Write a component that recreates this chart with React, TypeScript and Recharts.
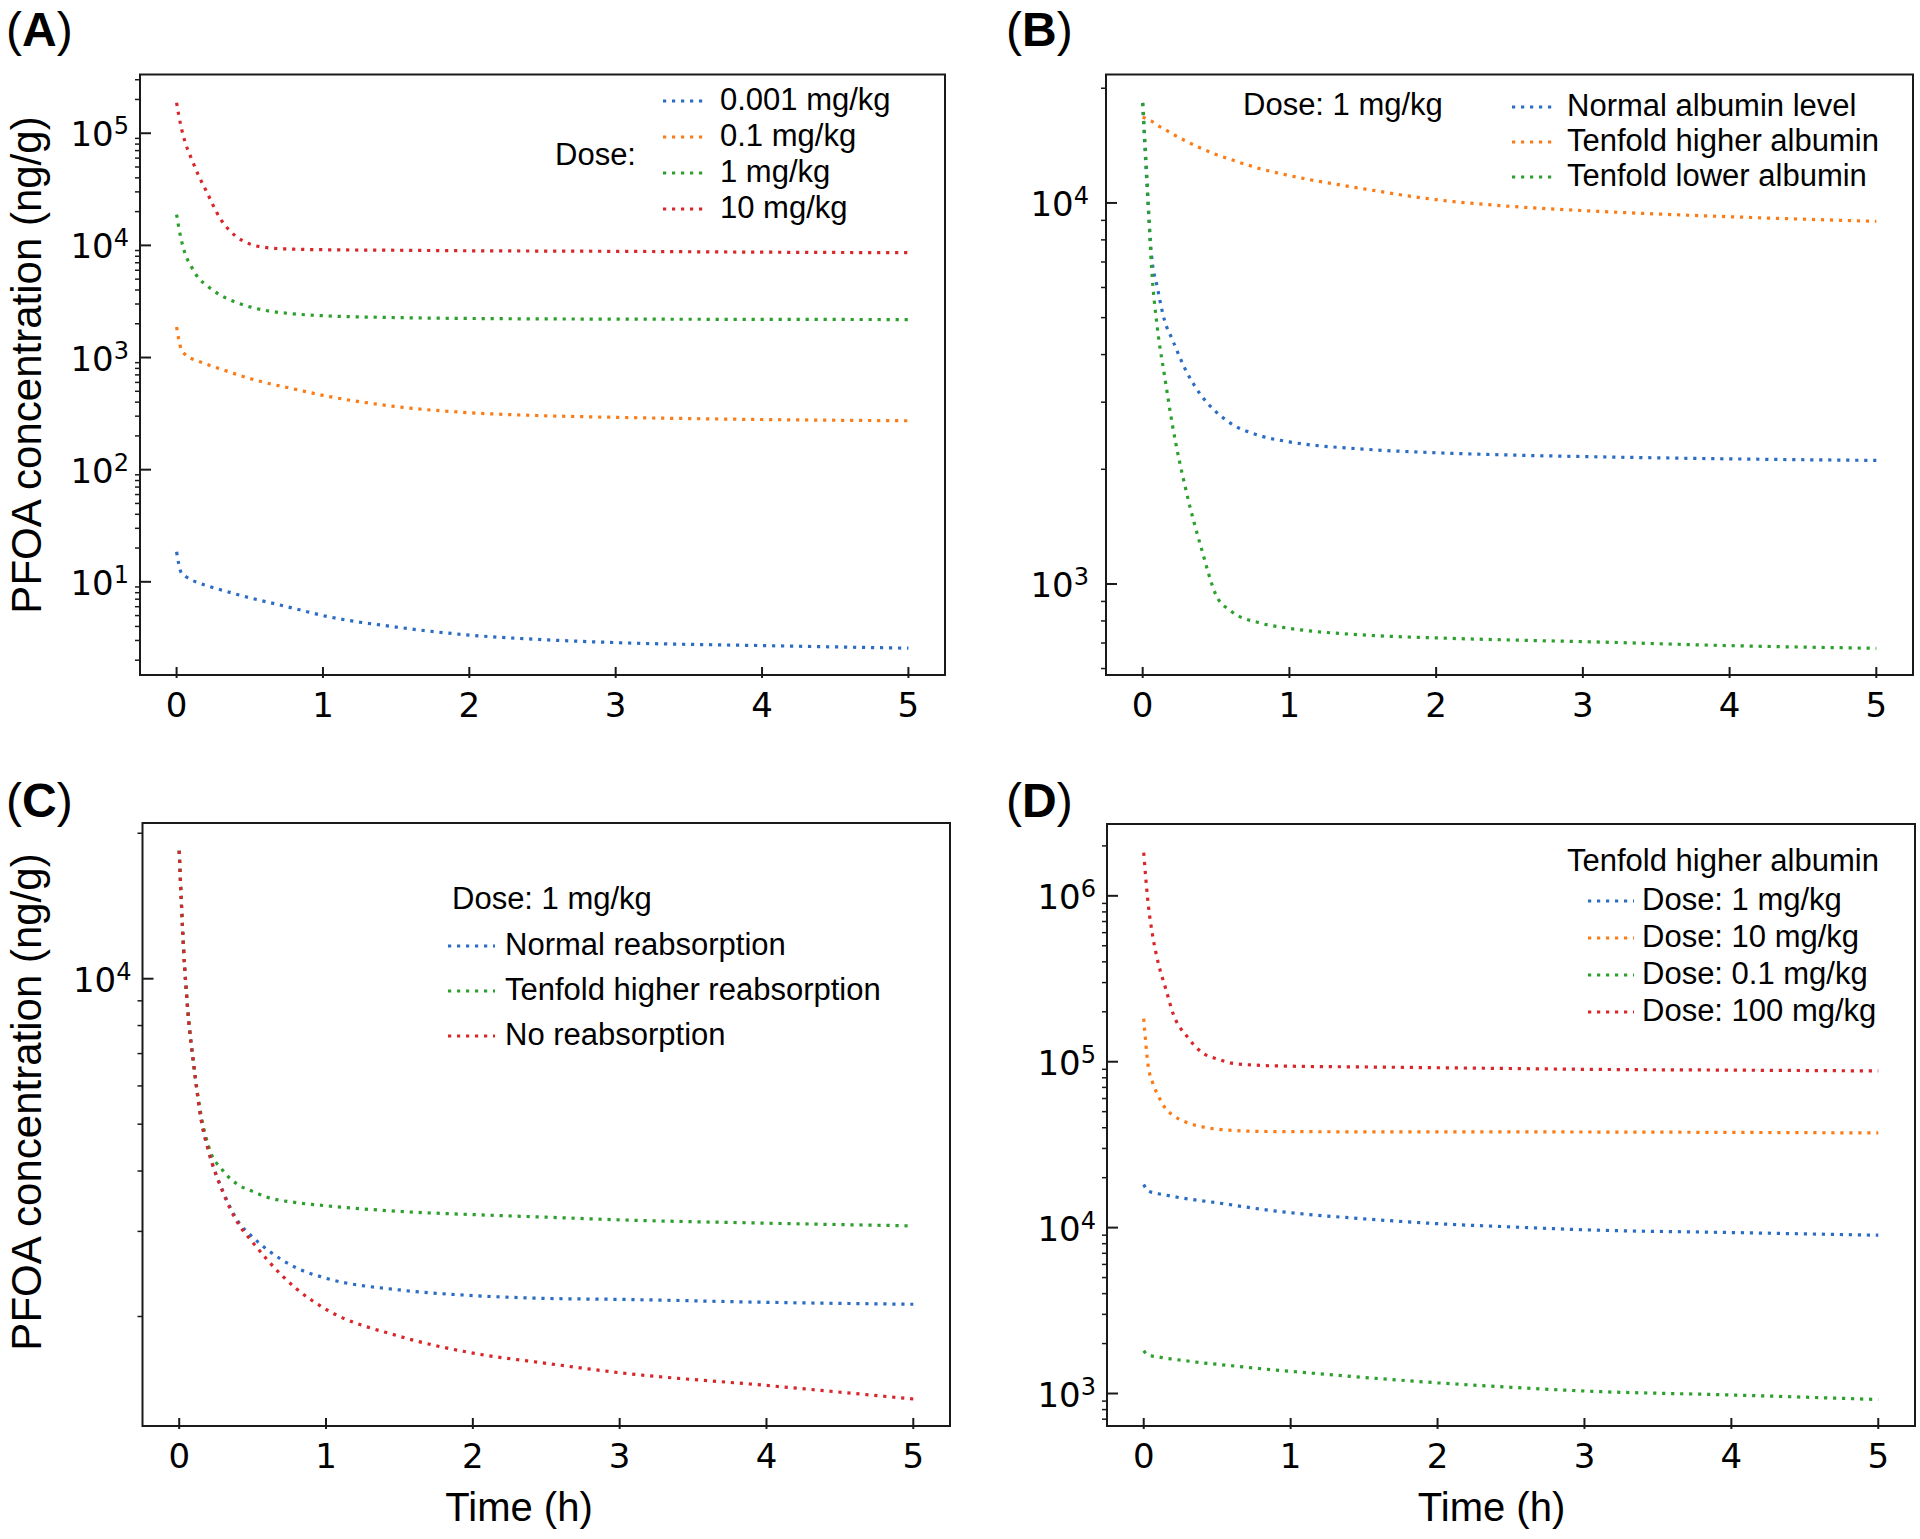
import React from "react";
import { LineChart, Line, XAxis, YAxis, ReferenceArea, Legend } from "recharts";

// shared time grid (h)
const TIME = [0, 0.03, 0.06, 0.1, 0.15, 0.2, 0.3, 0.4, 0.5, 0.6, 0.8, 1, 1.5, 2, 2.5, 3, 4, 5];
const X_TICKS = [0, 1, 2, 3, 4, 5];

// (A) dose comparison
const A_DOSE_0001 = [18.5, 12.2, 11.2, 10.4, 9.8, 9.3, 8.5, 7.8, 7.2, 6.7, 5.8, 5.0, 3.95, 3.35, 3.05, 2.87, 2.7, 2.56];
const A_DOSE_01 = [1870, 1200, 1060, 980, 925, 875, 790, 715, 650, 600, 525, 460, 365, 322, 303, 293, 280, 273];
const A_DOSE_1 = [18800, 11500, 8300, 6500, 5100, 4450, 3600, 3120, 2830, 2640, 2450, 2360, 2270, 2230, 2210, 2200, 2190, 2180];
const A_DOSE_10 = [187000, 115000, 82000, 60000, 42000, 31000, 17200, 12200, 10300, 9600, 9250, 9150, 9050, 8950, 8900, 8850, 8700, 8600];
const A_MAJOR = [10, 100, 1000, 10000, 100000];

// (B) albumin level
const B_NORMAL = [18300, 11000, 7300, 6000, 4900, 4400, 3600, 3120, 2830, 2640, 2450, 2360, 2260, 2210, 2180, 2160, 2130, 2110];
const B_HIGH = [16800, 16600, 16400, 16000, 15600, 15200, 14500, 13900, 13400, 13000, 12300, 11800, 10900, 10200, 9800, 9550, 9200, 8950];
const B_LOW = [18300, 11500, 6800, 4700, 3500, 2650, 1730, 1240, 935, 850, 790, 765, 735, 722, 713, 706, 689, 678];
const B_MAJOR = [1000, 10000];

// (C) reabsorption
const C_NORMAL = [18400, 11500, 8500, 6600, 5100, 4400, 3620, 3150, 2920, 2750, 2520, 2400, 2270, 2210, 2180, 2170, 2140, 2120];
const C_HIGH = [18400, 11500, 8500, 6600, 5200, 4500, 4000, 3750, 3630, 3530, 3440, 3390, 3300, 3250, 3210, 3170, 3120, 3080];
const C_NONE = [18400, 11500, 8500, 6600, 5100, 4400, 3600, 3120, 2850, 2620, 2280, 2070, 1820, 1680, 1600, 1530, 1440, 1350];
const C_MAJOR = [10000];

// (D) tenfold higher albumin, dose comparison
const D_DOSE_1 = [18200, 16600, 16300, 16000, 15700, 15400, 14900, 14500, 14100, 13700, 12900, 12300, 11300, 10560, 10100, 9700, 9340, 9000];
const D_DOSE_10 = [182000, 95000, 75000, 62000, 52000, 47500, 42800, 40500, 39200, 38600, 38000, 37900, 37800, 37800, 37750, 37700, 37500, 37200];
const D_DOSE_01 = [1810, 1700, 1680, 1660, 1630, 1610, 1570, 1530, 1500, 1470, 1410, 1360, 1250, 1160, 1090, 1035, 980, 920];
const D_DOSE_100 = [1820000, 900000, 580000, 390000, 275000, 195000, 140000, 113000, 104000, 98000, 95000, 94000, 93000, 92000, 91000, 90000, 89000, 88000];
const D_MAJOR = [1000, 10000, 100000, 1000000];

const BLUE = "#2b6cc4";
const ORANGE = "#fb7c16";
const GREEN = "#2ca02c";
const RED = "#d9262a";

const INK = "#1a1a1a";
const SANS = "'Liberation Sans', Arial, sans-serif";
const TICK_FONT = "'DejaVu Sans', sans-serif";

// log minor ticks (2..9 x 10^k) inside a domain
function minorTicks(lo: number, hi: number) {
  const out: number[] = [];
  for (let k = -1; k <= 7; k++) {
    for (let m = 2; m <= 9; m++) {
      const v = m * Math.pow(10, k);
      if (v >= lo && v <= hi) out.push(v);
    }
  }
  return out;
}

type Series = { name: string; color: string; values: number[] };

type Panel = {
  letter: string;
  left: number;
  top: number;
  width: number;
  height: number;
  margin: { top: number; right: number; bottom: number; left: number };
  domain: [number, number];
  major: number[];
  series: Series[];
  labelGap: number;
  legend: { title: string; titleX: number; titleY: number; lineX1: number; lineX2: number; textX: number; rows: number[] };
  yTitle?: { x: number; y: number };
  xTitle?: { x: number; y: number };
};

// margins are measured to the frame; the 1px axis boxes are taken off below
const panels: Panel[] = [
  {
    letter: "A",
    left: 0,
    top: 0,
    width: 960,
    height: 760,
    margin: { top: 74.5, right: 15, bottom: 85, left: 140 },
    domain: [1.476, 334000],
    major: A_MAJOR,
    labelGap: 11,
    series: [
      { name: "0.001 mg/kg", color: BLUE, values: A_DOSE_0001 },
      { name: "0.1 mg/kg", color: ORANGE, values: A_DOSE_01 },
      { name: "1 mg/kg", color: GREEN, values: A_DOSE_1 },
      { name: "10 mg/kg", color: RED, values: A_DOSE_10 },
    ],
    legend: { title: "Dose:", titleX: 555, titleY: 165, lineX1: 663, lineX2: 708, textX: 720, rows: [110, 146, 182, 218] },
    yTitle: { x: 41, y: 365 },
  },
  {
    letter: "B",
    left: 960,
    top: 0,
    width: 960,
    height: 760,
    margin: { top: 74.5, right: 7, bottom: 85, left: 146 },
    domain: [577, 21730],
    major: B_MAJOR,
    labelGap: 17,
    series: [
      { name: "Normal albumin level", color: BLUE, values: B_NORMAL },
      { name: "Tenfold higher albumin", color: ORANGE, values: B_HIGH },
      { name: "Tenfold lower albumin", color: GREEN, values: B_LOW },
    ],
    legend: { title: "Dose: 1 mg/kg", titleX: 283, titleY: 115, lineX1: 552, lineX2: 597, textX: 607, rows: [116, 151, 186] },
  },
  {
    letter: "C",
    left: 0,
    top: 760,
    width: 960,
    height: 779,
    margin: { top: 63, right: 10, bottom: 113, left: 142.5 },
    domain: [1187, 21000],
    major: C_MAJOR,
    labelGap: 11,
    series: [
      { name: "Normal reabsorption", color: BLUE, values: C_NORMAL },
      { name: "Tenfold higher reabsorption", color: GREEN, values: C_HIGH },
      { name: "No reabsorption", color: RED, values: C_NONE },
    ],
    legend: { title: "Dose: 1 mg/kg", titleX: 452, titleY: 149, lineX1: 448, lineX2: 495, textX: 505, rows: [195, 240, 285] },
    yTitle: { x: 41, y: 342 },
    xTitle: { x: 519, y: 761 },
  },
  {
    letter: "D",
    left: 960,
    top: 760,
    width: 960,
    height: 779,
    margin: { top: 64, right: 5, bottom: 113, left: 147 },
    domain: [637, 2710000],
    major: D_MAJOR,
    labelGap: 11,
    series: [
      { name: "Dose: 1 mg/kg", color: BLUE, values: D_DOSE_1 },
      { name: "Dose: 10 mg/kg", color: ORANGE, values: D_DOSE_10 },
      { name: "Dose: 0.1 mg/kg", color: GREEN, values: D_DOSE_01 },
      { name: "Dose: 100 mg/kg", color: RED, values: D_DOSE_100 },
    ],
    legend: { title: "Tenfold higher albumin", titleX: 607, titleY: 111, lineX1: 628, lineX2: 674, textX: 682, rows: [150, 187, 224, 261] },
    xTitle: { x: 531.5, y: 761 },
  },
];

function YTick(props: any) {
  const { x, y, payload, gap } = props;
  const v = payload.value;
  const exp = Math.round(Math.log10(v));
  const major = Math.abs(Math.log10(v) - exp) < 1e-6;
  if (!major) {
    return <line x1={x - 5} x2={x} y1={y} y2={y} stroke={INK} strokeWidth={1.5} />;
  }
  return (
    <g>
      <line x1={x} x2={x + 11} y1={y} y2={y} stroke={INK} strokeWidth={2} />
      <text x={x - gap} y={y + 13} textAnchor="end" fontFamily={TICK_FONT} fontSize={34} fill="#000">
        10
        <tspan dy={-12} fontSize={24}>
          {exp}
        </tspan>
      </text>
    </g>
  );
}

function XTick(props: any) {
  const { x, y, payload } = props;
  return (
    <g>
      <line x1={x} x2={x} y1={y - 8} y2={y + 3} stroke={INK} strokeWidth={2} />
      <text x={x} y={y + 42} textAnchor="middle" fontFamily={TICK_FONT} fontSize={34} fill="#000">
        {payload.value}
      </text>
    </g>
  );
}

function LegendBox({ p }: { p: Panel }) {
  const lg = p.legend;
  return (
    <svg width={p.width} height={p.height} style={{ position: "absolute", left: 0, top: 0, pointerEvents: "none" }}>
      <text x={lg.titleX} y={lg.titleY} fontFamily={SANS} fontSize={31} fill="#000">
        {lg.title}
      </text>
      {p.series.map((s, i) => (
        <g key={s.name}>
          <line
            x1={lg.lineX1}
            x2={lg.lineX2}
            y1={lg.rows[i] - 9}
            y2={lg.rows[i] - 9}
            stroke={s.color}
            strokeWidth={3.2}
            strokeDasharray="3.2 5.8"
          />
          <text x={lg.textX} y={lg.rows[i]} fontFamily={SANS} fontSize={31} fill="#000">
            {s.name}
          </text>
        </g>
      ))}
    </svg>
  );
}

function PanelChart({ p }: { p: Panel }) {
  const data = TIME.map((t, i) => {
    const row: Record<string, number> = { t };
    p.series.forEach((s, k) => {
      row["s" + k] = s.values[i];
    });
    return row;
  });
  const ticks = [...p.major, ...minorTicks(p.domain[0], p.domain[1])].sort((a, b) => a - b);
  const margin = { ...p.margin, left: p.margin.left - 1, bottom: p.margin.bottom - 1 };

  return (
    <div style={{ position: "absolute", left: p.left, top: p.top, width: p.width, height: p.height }}>
      <LineChart width={p.width} height={p.height} data={data} margin={margin}>
        <XAxis
          type="number"
          dataKey="t"
          domain={[-0.25, 5.25]}
          allowDataOverflow
          ticks={X_TICKS}
          interval={0}
          height={1}
          tickSize={0}
          tickMargin={0}
          axisLine={false}
          tickLine={false}
          tick={(tp: any) => <XTick {...tp} />}
          label={
            p.xTitle
              ? {
                  content: () => (
                    <text x={p.xTitle!.x} y={p.xTitle!.y} textAnchor="middle" fontFamily={SANS} fontSize={40} fill="#000">
                      Time (h)
                    </text>
                  ),
                }
              : undefined
          }
        />
        <YAxis
          type="number"
          scale="log"
          domain={p.domain}
          allowDataOverflow
          ticks={ticks}
          interval={0}
          width={1}
          tickSize={0}
          tickMargin={0}
          axisLine={false}
          tickLine={false}
          tick={(tp: any) => <YTick {...tp} gap={p.labelGap} />}
          label={
            p.yTitle
              ? {
                  content: () => (
                    <text
                      x={p.yTitle!.x}
                      y={p.yTitle!.y}
                      transform={`rotate(-90, ${p.yTitle!.x}, ${p.yTitle!.y})`}
                      textAnchor="middle"
                      fontFamily={SANS}
                      fontSize={42}
                      fill="#000"
                    >
                      PFOA concentration (ng/g)
                    </text>
                  ),
                }
              : undefined
          }
        />
        {p.series.map((s, k) => (
          <Line
            key={s.name}
            dataKey={"s" + k}
            name={s.name}
            type="monotone"
            stroke={s.color}
            strokeWidth={3.2}
            strokeDasharray="3.2 5.8"
            dot={false}
            activeDot={false}
            isAnimationActive={false}
          />
        ))}
        <ReferenceArea
          x1={-0.25}
          x2={5.25}
          y1={p.domain[0]}
          y2={p.domain[1]}
          fill="none"
          stroke={INK}
          strokeWidth={2}
          ifOverflow="visible"
        />
        <Legend
          verticalAlign="middle"
          align="center"
          wrapperStyle={{ left: 0, top: 0, width: p.width, height: p.height }}
          content={() => <LegendBox p={p} />}
        />
      </LineChart>
    </div>
  );
}

const LETTERS = [
  { letter: "A", x: 6, y: 46 },
  { letter: "B", x: 1006, y: 46 },
  { letter: "C", x: 6, y: 817 },
  { letter: "D", x: 1006, y: 817 },
];

export default function App() {
  return (
    <div style={{ position: "absolute", left: 0, top: 0, width: 1920, height: 1539, background: "#fff", overflow: "hidden" }}>
      {panels.map((p) => (
        <PanelChart key={p.letter} p={p} />
      ))}
      <svg width={1920} height={1539} style={{ position: "absolute", left: 0, top: 0, pointerEvents: "none" }}>
        {LETTERS.map((l) => (
          <text key={l.letter} x={l.x} y={l.y} fontFamily={SANS} fontSize={48} fill="#000">
            (<tspan fontWeight="bold">{l.letter}</tspan>)
          </text>
        ))}
      </svg>
    </div>
  );
}
